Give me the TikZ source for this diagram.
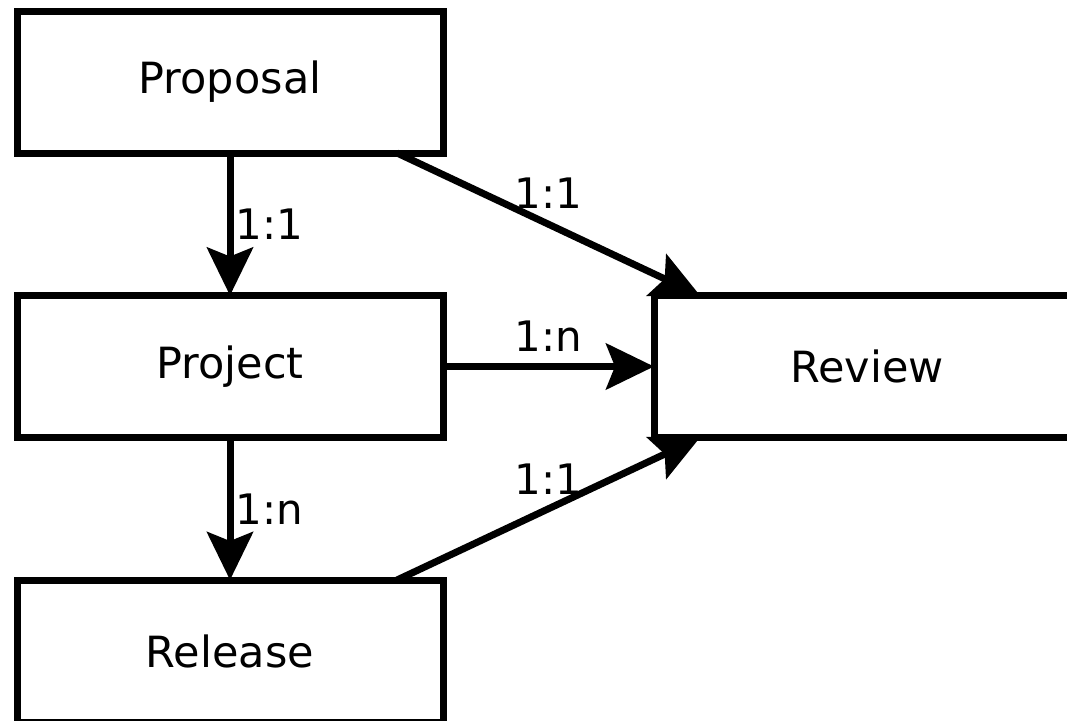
\documentclass[tikz,border=0pt]{standalone}
\usepackage{fontspec}
\setmainfont{DejaVu Sans}
\usetikzlibrary{arrows.meta}
\begin{document}
\begin{tikzpicture}[x=1pt,y=-1pt,
  entity/.style={draw, line width=7pt, minimum width=426pt, minimum height=142pt,
    inner sep=0pt, outer sep=0pt, font=\fontsize{43}{50}\selectfont},
  rel/.style={line width=7pt, -{Stealth[length=48pt,width=46pt,inset=9pt]}},
  card/.style={font=\fontsize{42}{50}\selectfont, inner sep=0pt}]
\useasboundingbox (0,0) rectangle (1067,720);
\clip (0,0) rectangle (1067,720);
\node[entity] (proposal) at (230,82) {Proposal};
\node[entity] (project) at (230,366.5) {Project};
\node[entity] (release) at (230,651) {Release};
\node[entity] (review) at (867,366.5) {Review};
\draw[rel] (proposal.south) -- node[card, right=2pt] {1:1} (project.north);
\draw[rel] (project.south) -- node[card, right=2pt] {1:n} (release.north);
\draw[rel] (project.east) -- node[card, above=12pt] {1:n} (review.west);
\draw[rel] ([xshift=-46pt]proposal.south east) -- node[card, above=12pt] {1:1} ([xshift=46pt]review.north west);
\draw[rel] ([xshift=-46pt]release.north east) -- node[card, above=11pt] {1:1} ([xshift=46pt]review.south west);
\end{tikzpicture}
\end{document}
